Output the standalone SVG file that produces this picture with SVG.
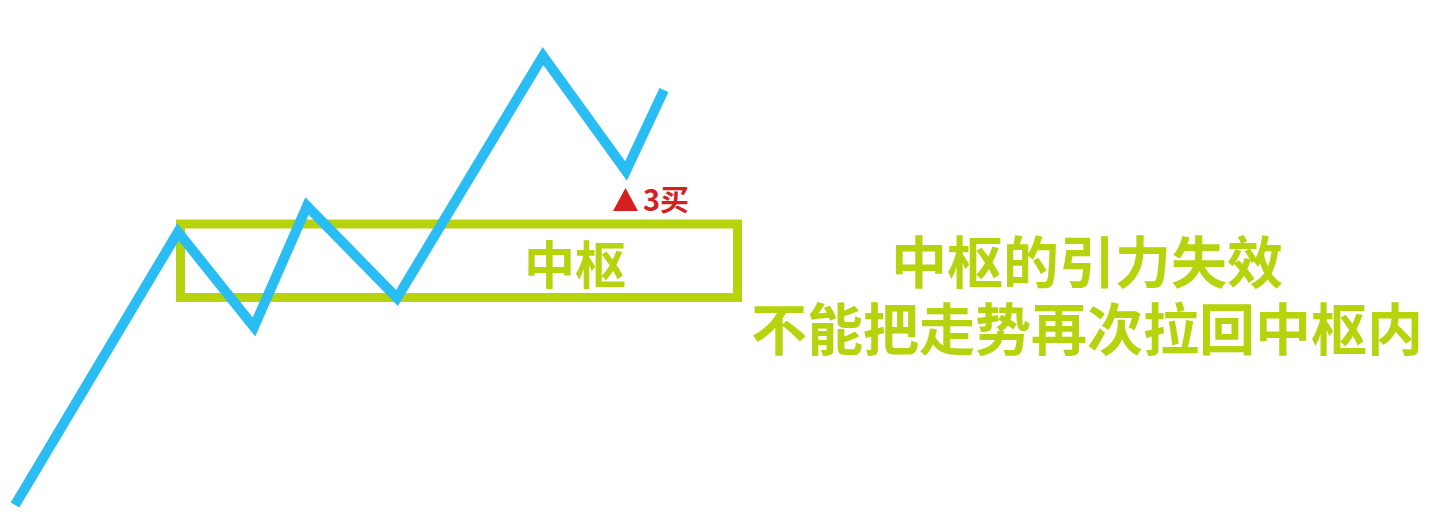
<svg xmlns="http://www.w3.org/2000/svg" width="1431" height="519" viewBox="0 0 1431 519">
<style>
.cjk{font-family:"Noto Sans CJK SC","Noto Sans",sans-serif;font-weight:700;text-anchor:middle}
.green{fill:#b6d30e}
.red{font-family:"Noto Sans CJK SC","Noto Sans",sans-serif;font-weight:700;fill:#d42020}
</style>
<rect width="1431" height="519" fill="#ffffff"/>
<g id="pivot-box">
<rect x="180.5" y="224" width="557" height="73.5" fill="none" stroke="#b6d30e" stroke-width="9"/>
<text class="cjk green" x="575" y="284" font-size="51">中枢</text>
</g>
<g id="connectors">
<polyline points="15,505 178,232 254,327 307,206 397,298 543,56 626,171 664,90" fill="none" stroke="#29bdf4" stroke-width="10" stroke-linejoin="miter"/>
</g>
<g id="buy3">
<polygon points="613,211 638,211 625.5,188" fill="#d42020"/>
<text class="red" x="643" y="211" font-size="29">3买</text>
</g>
<g id="note">
<text class="cjk green" x="1087" y="283" font-size="56">中枢的引力失效</text>
<text class="cjk green" x="1087" y="350" font-size="56">不能把走势再次拉回中枢内</text>
</g>
</svg>
